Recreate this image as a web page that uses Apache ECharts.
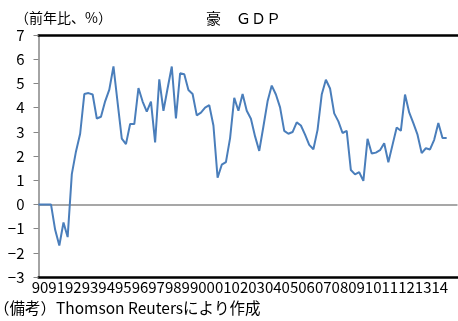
<!DOCTYPE html>
<html>
<head>
<meta charset="utf-8">
<script src="https://cdn.jsdelivr.net/npm/echarts@6/dist/echarts.min.js"></script>
<style>
html,body{margin:0;padding:0;background:#fff;}
#c{width:458px;height:321px;}
</style>
</head>
<body>
<div id="c"></div>
<script>
// Year labels (one per year, placed at each year's first quarter)
const years = ['90','91','92','93','94','95','96','97','98','99','00','01','02','03','04','05','06','07','08','09','10','11','12','13','14'];
// Australian real GDP, % change year on year, quarterly from 1990Q1
const gdpYoY = [
  0, 0, 0, 0, -1.05, -1.7, -0.75, -1.35,
  1.25, 2.19, 2.92, 4.56, 4.6, 4.54, 3.55, 3.62,
  4.26, 4.74, 5.7, 4.2, 2.72, 2.49, 3.32, 3.32,
  4.81, 4.25, 3.83, 4.25, 2.56, 5.17, 3.87, 4.8,
  5.7, 3.55, 5.42, 5.38, 4.73, 4.56, 3.68, 3.79,
  4.0, 4.1, 3.26, 1.1, 1.64, 1.75, 2.74, 4.4,
  3.87, 4.56, 3.87, 3.54, 2.81, 2.21, 3.22, 4.26,
  4.91, 4.54, 4.01, 3.04, 2.92, 2.99, 3.39, 3.26,
  2.88, 2.46, 2.28, 3.08, 4.54, 5.15, 4.79, 3.76,
  3.43, 2.95, 3.04, 1.42, 1.24, 1.33, 0.97, 2.71,
  2.1, 2.14, 2.24, 2.53, 1.74, 2.46, 3.18, 3.04,
  4.54, 3.8, 3.36, 2.88, 2.12, 2.32, 2.27, 2.67,
  3.36, 2.74, 2.74
];
const yTicks = [-3, -2, -1, 0, 1, 2, 3, 4, 5, 6, 7];
const titleText = '豪　ＧＤＰ';
const unitText = '（前年比、%）';
const noteText = '（備考）Thomson Reutersにより作成';

const FONT = '"Noto Sans CJK JP", "Noto Sans", sans-serif';
const chart = echarts.init(document.getElementById('c'), null, {renderer: 'canvas'});

const seriesData = gdpYoY.map((v, i) => [i, v]);

chart.setOption({
  animation: false,
  backgroundColor: '#fff',
  grid: {left: 38.5, right: 0, top: 35, bottom: 44, containLabel: false},
  xAxis: [{
    type: 'value',
    position: 'bottom',
    min: 0,
    max: 100.6,
    interval: 4,
    axisLine: {show: true, onZero: false, lineStyle: {color: '#000', width: 2.5}},
    axisTick: {show: false},
    splitLine: {show: false},
    axisLabel: {
      show: true,
      margin: 3,
      fontFamily: FONT,
      fontSize: 15,
      color: '#000',
      showMaxLabel: false,
      padding: [0, 0, 0, 3],
      formatter: function (v) {
        if (v % 4 !== 0) return '';
        const k = v / 4;
        return k < years.length ? years[k] : '';
      }
    }
  }, {
    type: 'value',
    position: 'top',
    min: 0,
    max: 100.6,
    axisLine: {show: true, onZero: false, lineStyle: {color: '#000', width: 2.5}},
    axisTick: {show: false},
    axisLabel: {show: false},
    splitLine: {show: false}
  }],
  yAxis: {
    type: 'value',
    min: yTicks[0],
    max: yTicks[yTicks.length - 1],
    interval: 1,
    axisLine: {show: true, lineStyle: {color: '#868686', width: 1.5}},
    axisTick: {show: true, inside: false, length: 5, lineStyle: {color: '#868686', width: 1}},
    splitLine: {show: false},
    axisLabel: {
      margin: 14,
      fontFamily: FONT,
      fontSize: 15,
      color: '#000',
      formatter: function (v) { return v < 0 ? '\u2212' + Math.abs(v) : String(v); }
    }
  },
  series: [{
    type: 'line',
    xAxisIndex: 0,
    data: seriesData,
    showSymbol: false,
    symbol: 'none',
    lineStyle: {color: '#4a7ebb', width: 2},
    z: 3,
    markLine: {
      silent: true,
      symbol: 'none',
      label: {show: false},
      lineStyle: {color: '#8a8a8a', width: 1.5, type: 'solid'},
      data: [{yAxis: 0}],
      z: 2
    }
  }],
  graphic: [
    {type: 'text', x: 15, y: 18, style: {text: unitText, font: '14px ' + FONT, fill: '#000', textVerticalAlign: 'middle'}},
    {type: 'text', x: 206, y: 18, style: {text: titleText, font: '15px ' + FONT, fill: '#000', textVerticalAlign: 'middle'}},
    {type: 'text', x: -6, y: 308.5, style: {text: noteText, font: '15.5px ' + FONT, fill: '#000', textVerticalAlign: 'middle'}}
  ]
});
</script>
</body>
</html>
